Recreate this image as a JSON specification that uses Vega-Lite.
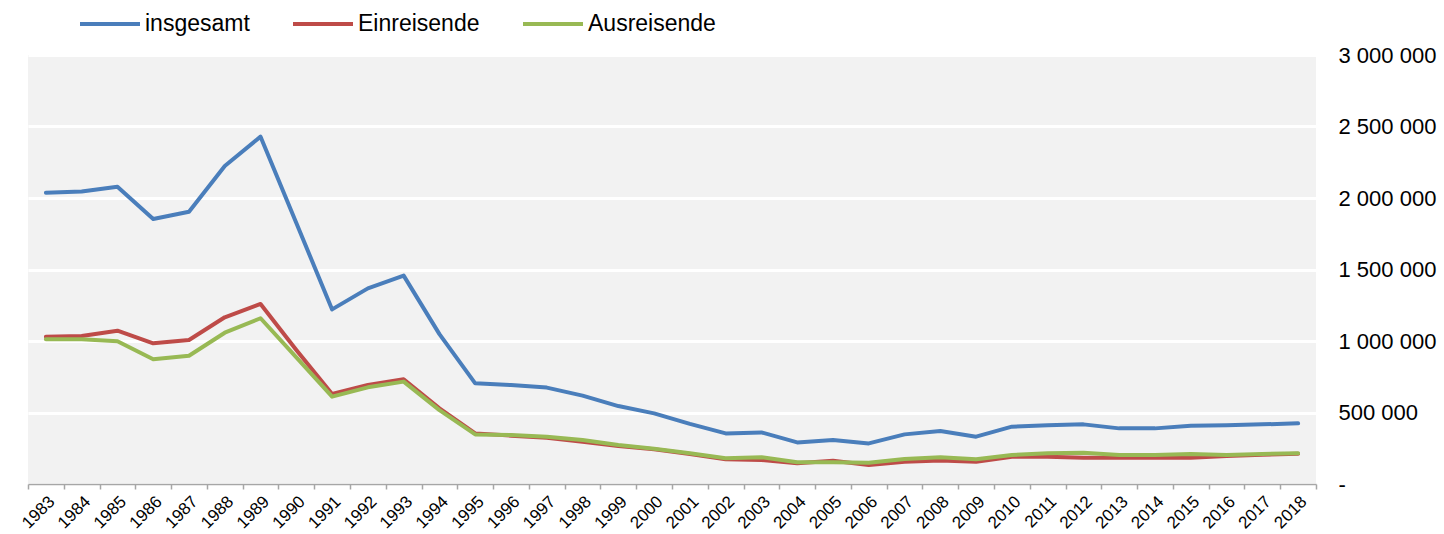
{
  "$schema": "https://vega.github.io/schema/vega-lite/v6.json",
  "width": 1288,
  "height": 429,
  "autosize": {"type": "none"},
  "padding": {"left": 28, "top": 55, "right": 128, "bottom": 50},
  "background": "white",
  "config": {
    "font": "Liberation Sans",
    "view": {"fill": "#f2f2f2", "stroke": null}
  },
  "data": {
    "values": [
      {"year": "1983", "series": "insgesamt", "value": 2037000},
      {"year": "1984", "series": "insgesamt", "value": 2045000},
      {"year": "1985", "series": "insgesamt", "value": 2079000},
      {"year": "1986", "series": "insgesamt", "value": 1853000},
      {"year": "1987", "series": "insgesamt", "value": 1904000},
      {"year": "1988", "series": "insgesamt", "value": 2224000},
      {"year": "1989", "series": "insgesamt", "value": 2429000},
      {"year": "1990", "series": "insgesamt", "value": 1825000},
      {"year": "1991", "series": "insgesamt", "value": 1221000},
      {"year": "1992", "series": "insgesamt", "value": 1368000},
      {"year": "1993", "series": "insgesamt", "value": 1457000},
      {"year": "1994", "series": "insgesamt", "value": 1048000},
      {"year": "1995", "series": "insgesamt", "value": 704000},
      {"year": "1996", "series": "insgesamt", "value": 692000},
      {"year": "1997", "series": "insgesamt", "value": 674000},
      {"year": "1998", "series": "insgesamt", "value": 618000},
      {"year": "1999", "series": "insgesamt", "value": 545000},
      {"year": "2000", "series": "insgesamt", "value": 494000},
      {"year": "2001", "series": "insgesamt", "value": 420000},
      {"year": "2002", "series": "insgesamt", "value": 354000},
      {"year": "2003", "series": "insgesamt", "value": 361000},
      {"year": "2004", "series": "insgesamt", "value": 291000},
      {"year": "2005", "series": "insgesamt", "value": 308000},
      {"year": "2006", "series": "insgesamt", "value": 284000},
      {"year": "2007", "series": "insgesamt", "value": 347000},
      {"year": "2008", "series": "insgesamt", "value": 371000},
      {"year": "2009", "series": "insgesamt", "value": 331000},
      {"year": "2010", "series": "insgesamt", "value": 401000},
      {"year": "2011", "series": "insgesamt", "value": 410000},
      {"year": "2012", "series": "insgesamt", "value": 417000},
      {"year": "2013", "series": "insgesamt", "value": 389000},
      {"year": "2014", "series": "insgesamt", "value": 389000},
      {"year": "2015", "series": "insgesamt", "value": 408000},
      {"year": "2016", "series": "insgesamt", "value": 410000},
      {"year": "2017", "series": "insgesamt", "value": 417000},
      {"year": "2018", "series": "insgesamt", "value": 424000},
      {"year": "1983", "series": "Einreisende", "value": 1030000},
      {"year": "1984", "series": "Einreisende", "value": 1035000},
      {"year": "1985", "series": "Einreisende", "value": 1072000},
      {"year": "1986", "series": "Einreisende", "value": 984000},
      {"year": "1987", "series": "Einreisende", "value": 1007000},
      {"year": "1988", "series": "Einreisende", "value": 1166000},
      {"year": "1989", "series": "Einreisende", "value": 1259000},
      {"year": "1990", "series": "Einreisende", "value": 937000},
      {"year": "1991", "series": "Einreisende", "value": 629000},
      {"year": "1992", "series": "Einreisende", "value": 692000},
      {"year": "1993", "series": "Einreisende", "value": 732000},
      {"year": "1994", "series": "Einreisende", "value": 529000},
      {"year": "1995", "series": "Einreisende", "value": 354000},
      {"year": "1996", "series": "Einreisende", "value": 338000},
      {"year": "1997", "series": "Einreisende", "value": 324000},
      {"year": "1998", "series": "Einreisende", "value": 296000},
      {"year": "1999", "series": "Einreisende", "value": 266000},
      {"year": "2000", "series": "Einreisende", "value": 243000},
      {"year": "2001", "series": "Einreisende", "value": 210000},
      {"year": "2002", "series": "Einreisende", "value": 173000},
      {"year": "2003", "series": "Einreisende", "value": 168000},
      {"year": "2004", "series": "Einreisende", "value": 145000},
      {"year": "2005", "series": "Einreisende", "value": 163000},
      {"year": "2006", "series": "Einreisende", "value": 133000},
      {"year": "2007", "series": "Einreisende", "value": 156000},
      {"year": "2008", "series": "Einreisende", "value": 165000},
      {"year": "2009", "series": "Einreisende", "value": 156000},
      {"year": "2010", "series": "Einreisende", "value": 191000},
      {"year": "2011", "series": "Einreisende", "value": 191000},
      {"year": "2012", "series": "Einreisende", "value": 184000},
      {"year": "2013", "series": "Einreisende", "value": 184000},
      {"year": "2014", "series": "Einreisende", "value": 184000},
      {"year": "2015", "series": "Einreisende", "value": 184000},
      {"year": "2016", "series": "Einreisende", "value": 196000},
      {"year": "2017", "series": "Einreisende", "value": 205000},
      {"year": "2018", "series": "Einreisende", "value": 212000},
      {"year": "1983", "series": "Ausreisende", "value": 1012000},
      {"year": "1984", "series": "Ausreisende", "value": 1012000},
      {"year": "1985", "series": "Ausreisende", "value": 998000},
      {"year": "1986", "series": "Ausreisende", "value": 872000},
      {"year": "1987", "series": "Ausreisende", "value": 897000},
      {"year": "1988", "series": "Ausreisende", "value": 1058000},
      {"year": "1989", "series": "Ausreisende", "value": 1159000},
      {"year": "1990", "series": "Ausreisende", "value": 885000},
      {"year": "1991", "series": "Ausreisende", "value": 611000},
      {"year": "1992", "series": "Ausreisende", "value": 676000},
      {"year": "1993", "series": "Ausreisende", "value": 716000},
      {"year": "1994", "series": "Ausreisende", "value": 517000},
      {"year": "1995", "series": "Ausreisende", "value": 347000},
      {"year": "1996", "series": "Ausreisende", "value": 343000},
      {"year": "1997", "series": "Ausreisende", "value": 331000},
      {"year": "1998", "series": "Ausreisende", "value": 308000},
      {"year": "1999", "series": "Ausreisende", "value": 273000},
      {"year": "2000", "series": "Ausreisende", "value": 247000},
      {"year": "2001", "series": "Ausreisende", "value": 215000},
      {"year": "2002", "series": "Ausreisende", "value": 180000},
      {"year": "2003", "series": "Ausreisende", "value": 187000},
      {"year": "2004", "series": "Ausreisende", "value": 152000},
      {"year": "2005", "series": "Ausreisende", "value": 152000},
      {"year": "2006", "series": "Ausreisende", "value": 149000},
      {"year": "2007", "series": "Ausreisende", "value": 175000},
      {"year": "2008", "series": "Ausreisende", "value": 187000},
      {"year": "2009", "series": "Ausreisende", "value": 173000},
      {"year": "2010", "series": "Ausreisende", "value": 203000},
      {"year": "2011", "series": "Ausreisende", "value": 215000},
      {"year": "2012", "series": "Ausreisende", "value": 219000},
      {"year": "2013", "series": "Ausreisende", "value": 203000},
      {"year": "2014", "series": "Ausreisende", "value": 203000},
      {"year": "2015", "series": "Ausreisende", "value": 210000},
      {"year": "2016", "series": "Ausreisende", "value": 203000},
      {"year": "2017", "series": "Ausreisende", "value": 210000},
      {"year": "2018", "series": "Ausreisende", "value": 215000}
    ]
  },
  "mark": {"type": "line", "strokeWidth": 4, "strokeCap": "round", "strokeJoin": "round"},
  "encoding": {
    "x": {
      "field": "year",
      "type": "ordinal",
      "bandPosition": 0.5,
      "scale": {"type": "band", "paddingInner": 0, "paddingOuter": 0},
      "axis": {
        "title": null,
        "tickBand": "extent",
        "labelAngle": -45,
        "labelFontSize": 17,
        "labelColor": "#000000",
        "labelPadding": 4,
        "domainColor": "#a6a6a6",
        "domainWidth": 1.5,
        "tickColor": "#a6a6a6",
        "tickWidth": 1.5,
        "tickSize": 5,
        "grid": false
      }
    },
    "y": {
      "field": "value",
      "type": "quantitative",
      "scale": {"domain": [0, 3000000], "nice": false},
      "axis": {
        "orient": "right",
        "title": null,
        "values": [0, 500000, 1000000, 1500000, 2000000, 2500000, 3000000],
        "labelExpr": "datum.value == 0 ? '-' : (datum.value < 1000000 ? '\u00a0' : '') + replace(replace(format(datum.value, ',d'), ',', ' '), ',', ' ')",
        "labelAlign": "left",
        "labelPadding": 22,
        "labelFontSize": 22,
        "labelColor": "#000000",
        "ticks": false,
        "domain": false,
        "grid": true,
        "gridColor": "#ffffff",
        "gridWidth": 3
      }
    },
    "color": {
      "field": "series",
      "type": "nominal",
      "scale": {
        "domain": ["insgesamt", "Einreisende", "Ausreisende"],
        "range": ["#4a7ebb", "#be4b48", "#98b954"]
      },
      "legend": {
        "title": null,
        "orient": "none",
        "direction": "horizontal",
        "legendX": 50,
        "legendY": -63,
        "symbolType": "stroke",
        "symbolSize": 3600,
        "symbolStrokeWidth": 4,
        "labelFontSize": 23,
        "labelColor": "#000000",
        "labelOffset": 3,
        "columnPadding": 35
      }
    },
    "order": {"field": "series"}
  }
}
